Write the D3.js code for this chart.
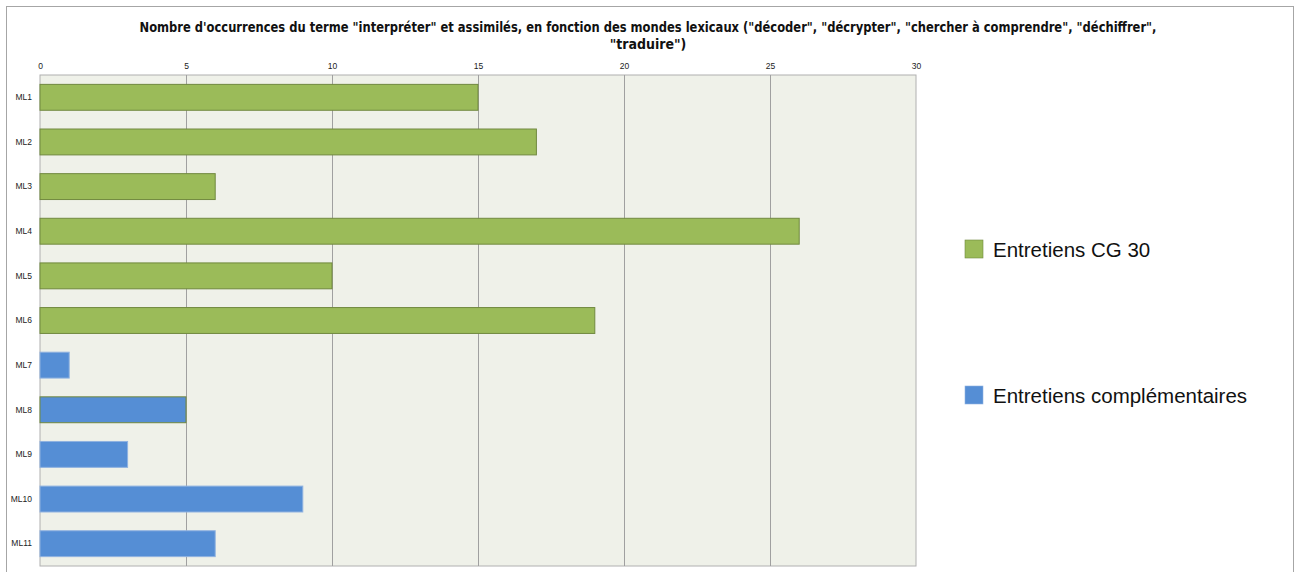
<!DOCTYPE html>
<html>
<head>
<meta charset="utf-8">
<script src="https://cdn.jsdelivr.net/npm/d3@7"></script>
<style>
  body { margin: 0; background: #fff; }
  svg { display: block; font-family: "Liberation Sans Narrow", "DejaVu Sans Condensed", "Open Sans", sans-serif; }
</style>
</head>
<body>
<svg id="chart" width="1296" height="572"></svg>
<script>
var categories = ["ML1", "ML2", "ML3", "ML4", "ML5", "ML6", "ML7", "ML8", "ML9", "ML10", "ML11"];
var values = [15, 17, 6, 26, 10, 19, 1, 5, 3, 9, 6];
var groups = ["cg", "cg", "cg", "cg", "cg", "cg", "comp", "comp", "comp", "comp", "comp"];
var seriesNames = ["Entretiens CG 30", "Entretiens complémentaires"];
var xTicks = [0, 5, 10, 15, 20, 25, 30];
var titleLines = [
    "Nombre d'occurrences du terme \"interpréter\" et assimilés, en fonction des mondes lexicaux (\"décoder\", \"décrypter\", \"chercher à comprendre\", \"déchiffrer\",",
    "\"traduire\")"
];

var colors = { cg: "#9bbb59", comp: "#558ed5" };
var strokes = { cg: "#71893f", comp: "#8fb2e0" };

var svg = d3.select("#chart"),
    margin = { top: 75, left: 40 },
    width = 876,
    height = 491,
    g = svg.append("g").attr("transform", "translate(" + margin.left + "," + margin.top + ")");

// outer frame
svg.append("rect")
    .attr("x", 6.5).attr("y", 6.5)
    .attr("width", 1287).attr("height", 580)
    .attr("fill", "none")
    .attr("stroke", "#a6a6a6");

var x = d3.scaleLinear().domain([0, 30]).range([0, width]);
var y = d3.scaleBand().domain(categories).range([0, height]).paddingInner(0.42).paddingOuter(0.21);

// plot background
g.append("rect")
    .attr("width", width).attr("height", height)
    .attr("fill", "#eff1e9")
    .attr("stroke", "#b0b0b0");

// grid lines
g.selectAll(".grid")
    .data(xTicks.slice(1, -1))
    .enter().append("line")
    .attr("x1", function (d) { return x(d) + 0.5; })
    .attr("x2", function (d) { return x(d) + 0.5; })
    .attr("y1", 0).attr("y2", height)
    .attr("stroke", "#a0a0a0");

// top axis labels
var xAxis = g.append("g")
    .call(d3.axisTop(x).tickValues(xTicks).tickSize(0).tickPadding(6));
xAxis.select(".domain").remove();
xAxis.selectAll("text").style("font-size", "8.5px").attr("fill", "#222");

// left axis labels
var yAxis = g.append("g")
    .call(d3.axisLeft(y).tickSize(0).tickPadding(8));
yAxis.select(".domain").remove();
yAxis.selectAll("text").style("font-size", "8.5px").attr("fill", "#222");

// bars
g.selectAll(".bar")
    .data(values)
    .enter().append("rect")
    .attr("class", "bar")
    .attr("x", x(0))
    .attr("y", function (d, i) { return y(categories[i]); })
    .attr("width", function (d) { return x(d) - x(0); })
    .attr("height", y.bandwidth())
    .attr("fill", function (d, i) { return colors[groups[i]]; })
    .attr("stroke", function (d, i) { return i === 7 ? strokes.cg : strokes[groups[i]]; })
    .attr("stroke-width", 1);

// title
svg.append("g").selectAll("text")
    .data(titleLines)
    .enter().append("text")
    .attr("x", 648)
    .attr("y", function (d, i) { return 32 + i * 17; })
    .attr("text-anchor", "middle")
    .attr("textLength", function (d, i) { return i === 0 ? 1017 : null; })
    .attr("lengthAdjust", "spacingAndGlyphs")
    .style("font-size", "14px")
    .style("font-weight", "bold")
    .attr("fill", "#111")
    .text(function (d) { return d; });

// legend
var legend = svg.append("g").selectAll("g")
    .data(seriesNames)
    .enter().append("g")
    .attr("transform", function (d, i) { return "translate(965," + (240 + i * 146) + ")"; });

legend.append("rect")
    .attr("width", 18).attr("height", 18)
    .attr("fill", function (d, i) { return i === 0 ? colors.cg : colors.comp; })
    .attr("stroke", function (d, i) { return i === 0 ? strokes.cg : strokes.comp; })
    .attr("stroke-width", 0.6);

legend.append("text")
    .attr("x", 28)
    .attr("y", 17)
    .style("font-family", "'Liberation Sans', Arial, sans-serif")
    .style("font-size", "20.5px")
    .attr("fill", "#111")
    .text(function (d) { return d; });
</script>
</body>
</html>
